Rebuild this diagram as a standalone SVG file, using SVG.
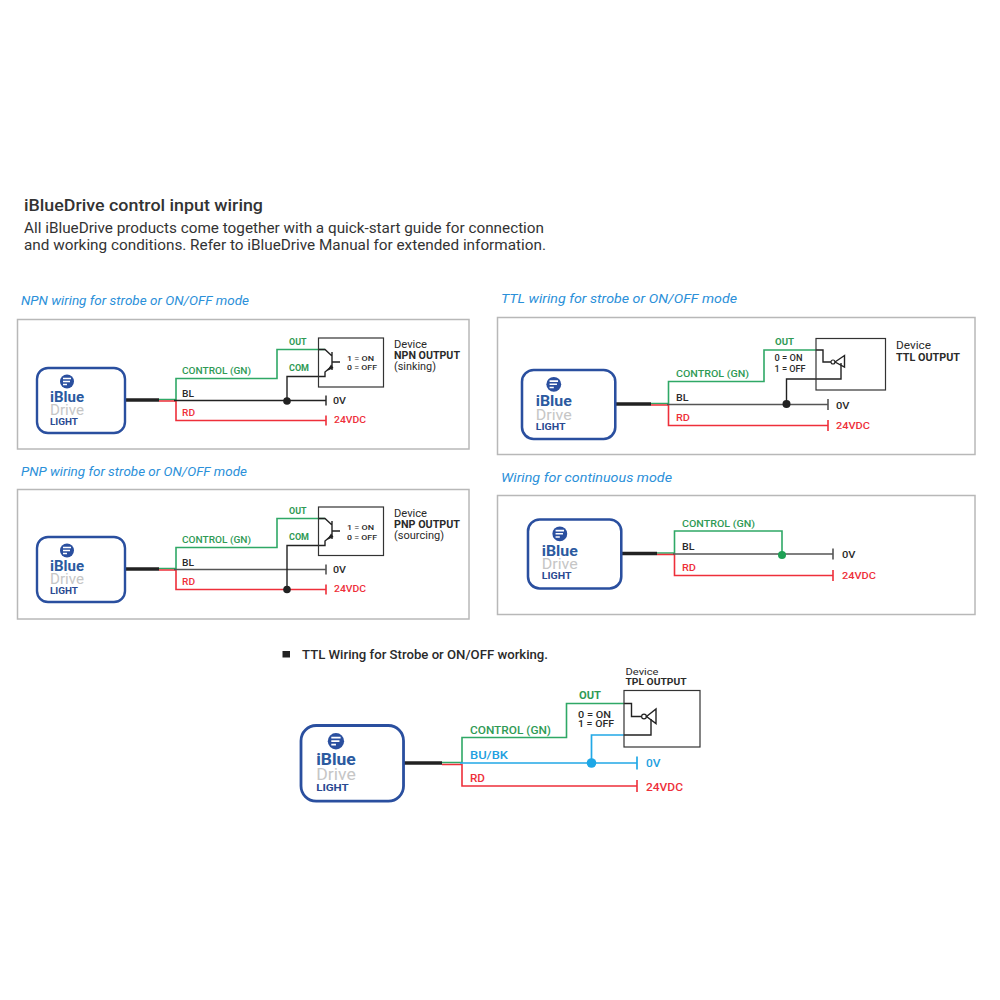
<svg xmlns="http://www.w3.org/2000/svg" width="1000" height="1000" viewBox="0 0 1000 1000">
<style>
text{font-family:"Roboto","Liberation Sans",sans-serif;fill:#2a2a2a;font-size:9px}
.panel{fill:#fff;stroke:#b8b8b8;stroke-width:1.5}
.dev{fill:none;stroke:#333;stroke-width:1.2}
.w{fill:none;stroke-width:1.4;stroke-linejoin:miter}
.g{stroke:#2fa866;stroke-width:1.6}.k{stroke:#222}.r{stroke:#ee2f3a;stroke-width:1.6}.b{stroke:#22a8e6;stroke-width:1.7}
.n{stroke:#555;stroke-width:1.6}
.cable{fill:none;stroke:#222;stroke-width:3.4}
.sec{font-size:12.5px;font-style:italic;fill:#2b90d9}
.tg{fill:#2f9a55}.tr{fill:#ee2f3a}.tb{fill:#22a0e0}.bd{font-weight:700}.md{font-weight:500}
.box{fill:#fff;stroke:#2a4f9f;stroke-width:2.4}
.lb{font-size:14px;font-weight:700;fill:#2b5a9f}
.ld{font-size:14px;fill:#c6c6c6}
.ll{font-size:8.500px;font-weight:700;fill:#2a4a92}
.ic{fill:#2a4f9f}
.icb{fill:none;stroke:#fff;stroke-width:1.5}
</style>
<g id="heading">
<text x="24" y="211" style="font-size:17px;font-weight:500;fill:#333" textLength="239" lengthAdjust="spacingAndGlyphs">iBlueDrive control input wiring</text>
<text x="24" y="233" style="font-size:14px;fill:#333" textLength="520" lengthAdjust="spacingAndGlyphs">All iBlueDrive products come together with a quick-start guide for connection</text>
<text x="24" y="250" style="font-size:14px;fill:#333" textLength="522" lengthAdjust="spacingAndGlyphs">and working conditions. Refer to iBlueDrive Manual for extended information.</text>
</g>
<g id="section-titles">
<text class="sec" x="21" y="305" textLength="228" lengthAdjust="spacingAndGlyphs">NPN wiring for strobe or ON/OFF mode</text>
<text class="sec" x="21" y="476" textLength="226" lengthAdjust="spacingAndGlyphs">PNP wiring for strobe or ON/OFF mode</text>
<text class="sec" x="501" y="303" textLength="236" lengthAdjust="spacingAndGlyphs">TTL wiring for strobe or ON/OFF mode</text>
<text class="sec" x="501" y="482" textLength="171" lengthAdjust="spacingAndGlyphs">Wiring for continuous mode</text>
</g>
<g id="panels">
<rect class="panel" x="17.5" y="319.5" width="451.5" height="129.5"/>
<rect class="panel" x="17.5" y="489.5" width="451.5" height="129.5"/>
<rect class="panel" x="497.5" y="317.5" width="477.5" height="137"/>
<rect class="panel" x="497.5" y="495.5" width="477.5" height="119"/>
</g>
<g id="connectors">
<!-- NPN -->
<path class="cable" d="M125 400H159"/>
<path class="w g" d="M159 399.5H176V378.5H277V349.5H325"/>
<path class="w r" d="M159 401H176V420.5H326M326 415.5V425.5"/>
<path class="w k" d="M174 400.5H326M326 395.5V405.5M287 401V376.500H318"/>
<path class="w k" d="M318 349.5H325L332 356M332 352V370M332 362H340M332 366L325 372V376.500H318"/>
<path d="M327 371L331 364.500L333.500 368Z" fill="#222"/>
<circle cx="287" cy="401" r="3.8" fill="#222"/>
<!-- PNP -->
<path class="cable" d="M125 569H159"/>
<path class="w g" d="M159 568.5H176V547.5H277V518.5H325"/>
<path class="w r" d="M159 570H176V589.5H326M326 584.5V594.5"/>
<path class="w n" d="M174 569.5H326M326 564.5V574.5"/>
<path class="w k" d="M287 589.5V545.5H318"/>
<path class="w k" d="M318 518.5H325L332 525M332 521V539M332 531H340M332 535L325 541V545.5H318"/>
<path d="M327 540L331 533.500L333.500 537Z" fill="#222"/>
<circle cx="287" cy="589.5" r="3.8" fill="#222"/>
<!-- TTL -->
<path class="cable" d="M615 404H651"/>
<path class="w g" d="M651 403.5H668.5V381.5H764V350H816"/>
<path class="w r" d="M651 405H668.5V425.5H828M828 420V431"/>
<path class="w n" d="M667 404.5H828M828 399V410"/>
<path class="w k" d="M786.5 404V379H841V363M816 350H823V362H831"/>
<circle cx="833" cy="362" r="2" fill="#fff" stroke="#222" stroke-width="1.100"/>
<path class="w k" d="M835 362L844.5 355.5V367Z"/>
<circle cx="786.5" cy="404" r="4" fill="#222"/>
<!-- Continuous -->
<path class="cable" d="M621 553.5H657"/>
<path class="w g" d="M657 553H674.5V531H782V555"/>
<path class="w r" d="M657 554.5H674.5V575.5H833M833 570V581"/>
<path class="w n" d="M673 554H833M833 548.5V559.5"/>
<circle cx="782" cy="555" r="4" fill="#1fa055"/>
<!-- TPL -->
<path class="cable" d="M403 763H442"/>
<path class="w g" d="M442 762.5H462V737.5H566.5V703.5H624"/>
<path class="w r" d="M442 764.5H462V786H637M637 780V792"/>
<path class="w b" d="M460 763H637M637 756.5V769.5M591.5 763V735H624"/>
<path class="w k" d="M624 703.5H631.5V716.5H641M624 735H651V719"/>
<circle cx="644" cy="716.5" r="2.4" fill="#fff" stroke="#222" stroke-width="1.200"/>
<path class="w k" d="M646.5 716.5L656 709V723.5Z"/>
<circle cx="591.5" cy="763" r="4.8" fill="#1ea7e6"/>
</g>
<g id="logo-npn" transform="translate(37 368)">
<rect class="box" width="88" height="65" rx="11"/><circle class="ic" cx="30" cy="13.5" r="7"/><path class="icb" d="M26 10.5H34M26 13.5H33M26 16.5H30"/>
<text class="lb" x="13" y="34" textLength="34" lengthAdjust="spacingAndGlyphs">iBlue</text><text class="ld" x="13" y="47" textLength="34" lengthAdjust="spacingAndGlyphs">Drive</text><text class="ll" x="13" y="56.500" textLength="28" lengthAdjust="spacingAndGlyphs">LIGHT</text>
</g>
<g id="device-npn">
<rect class="dev" x="318.500" y="338" width="65" height="49"/>
<text class="tg bd" x="289" y="345" textLength="17.500" lengthAdjust="spacingAndGlyphs">OUT</text>
<text class="tg bd" x="289" y="371" textLength="20" lengthAdjust="spacingAndGlyphs">COM</text>
<text class="tg md" x="182" y="374" textLength="69" lengthAdjust="spacingAndGlyphs">CONTROL (GN)</text>
<text class="md" x="182" y="397" textLength="12" lengthAdjust="spacingAndGlyphs">BL</text>
<text class="tr md" x="182" y="416" textLength="13" lengthAdjust="spacingAndGlyphs">RD</text>
<text class="md" x="333" y="404" textLength="13" lengthAdjust="spacingAndGlyphs">0V</text>
<text class="tr md" x="334" y="423" textLength="32" lengthAdjust="spacingAndGlyphs">24VDC</text>
<text class="md" x="347" y="361" textLength="27" lengthAdjust="spacingAndGlyphs" style="font-size:8px">1 = ON</text>
<text class="md" x="347" y="370" textLength="30" lengthAdjust="spacingAndGlyphs" style="font-size:8px">0 = OFF</text>
<text x="394" y="348" style="font-size:10px" textLength="33" lengthAdjust="spacingAndGlyphs">Device</text>
<text class="bd" x="394" y="359" style="font-size:10px" textLength="66" lengthAdjust="spacingAndGlyphs">NPN OUTPUT</text>
<text x="394" y="370" style="font-size:10px" textLength="42" lengthAdjust="spacingAndGlyphs">(sinking)</text>
</g>
<g id="logo-pnp" transform="translate(37 537)">
<rect class="box" width="88" height="65" rx="11"/><circle class="ic" cx="30" cy="13.5" r="7"/><path class="icb" d="M26 10.5H34M26 13.5H33M26 16.5H30"/>
<text class="lb" x="13" y="34" textLength="34" lengthAdjust="spacingAndGlyphs">iBlue</text><text class="ld" x="13" y="47" textLength="34" lengthAdjust="spacingAndGlyphs">Drive</text><text class="ll" x="13" y="56.500" textLength="28" lengthAdjust="spacingAndGlyphs">LIGHT</text>
</g>
<g id="device-pnp">
<rect class="dev" x="318.500" y="507" width="65" height="48.500"/>
<text class="tg bd" x="289" y="514" textLength="17.500" lengthAdjust="spacingAndGlyphs">OUT</text>
<text class="tg bd" x="289" y="540" textLength="20" lengthAdjust="spacingAndGlyphs">COM</text>
<text class="tg md" x="182" y="543" textLength="69" lengthAdjust="spacingAndGlyphs">CONTROL (GN)</text>
<text class="md" x="182" y="566" textLength="12" lengthAdjust="spacingAndGlyphs">BL</text>
<text class="tr md" x="182" y="585" textLength="13" lengthAdjust="spacingAndGlyphs">RD</text>
<text class="md" x="333" y="573" textLength="13" lengthAdjust="spacingAndGlyphs">0V</text>
<text class="tr md" x="334" y="592" textLength="32" lengthAdjust="spacingAndGlyphs">24VDC</text>
<text class="md" x="347" y="530" textLength="27" lengthAdjust="spacingAndGlyphs" style="font-size:8px">1 = ON</text>
<text class="md" x="347" y="539.500" textLength="30" lengthAdjust="spacingAndGlyphs" style="font-size:8px">0 = OFF</text>
<text x="394" y="517" style="font-size:10px" textLength="33" lengthAdjust="spacingAndGlyphs">Device</text>
<text class="bd" x="394" y="528" style="font-size:10px" textLength="66" lengthAdjust="spacingAndGlyphs">PNP OUTPUT</text>
<text x="394" y="539" style="font-size:10px" textLength="50" lengthAdjust="spacingAndGlyphs">(sourcing)</text>
</g>
<g id="logo-ttl" transform="translate(522 370) scale(1.06)">
<rect class="box" width="88" height="65" rx="11"/><circle class="ic" cx="30" cy="13.5" r="7"/><path class="icb" d="M26 10.5H34M26 13.5H33M26 16.5H30"/>
<text class="lb" x="13" y="34" textLength="34" lengthAdjust="spacingAndGlyphs">iBlue</text><text class="ld" x="13" y="47" textLength="34" lengthAdjust="spacingAndGlyphs">Drive</text><text class="ll" x="13" y="56.500" textLength="28" lengthAdjust="spacingAndGlyphs">LIGHT</text>
</g>
<g id="device-ttl">
<rect class="dev" x="816" y="338.500" width="69.500" height="51.500"/>
<text class="tg bd" x="775" y="345" textLength="19" lengthAdjust="spacingAndGlyphs">OUT</text>
<text class="md" x="774.500" y="361" textLength="28" lengthAdjust="spacingAndGlyphs" style="font-size:8.500px">0 = ON</text>
<text class="md" x="774.500" y="371.500" textLength="31" lengthAdjust="spacingAndGlyphs" style="font-size:8.500px">1 = OFF</text>
<text class="tg md" x="676" y="377" textLength="73" lengthAdjust="spacingAndGlyphs">CONTROL (GN)</text>
<text class="md" x="676" y="400.500" textLength="12.500" lengthAdjust="spacingAndGlyphs">BL</text>
<text class="tr md" x="676" y="420.500" textLength="14" lengthAdjust="spacingAndGlyphs">RD</text>
<text class="md" x="836" y="408.500" textLength="13.500" lengthAdjust="spacingAndGlyphs">0V</text>
<text class="tr md" x="836" y="429" textLength="34" lengthAdjust="spacingAndGlyphs">24VDC</text>
<text x="896" y="349" style="font-size:10.500px" textLength="35" lengthAdjust="spacingAndGlyphs">Device</text>
<text class="bd" x="896" y="361" style="font-size:10.500px" textLength="64" lengthAdjust="spacingAndGlyphs">TTL OUTPUT</text>
</g>
<g id="logo-continuous" transform="translate(528 519.500) scale(1.06)">
<rect class="box" width="88" height="65" rx="11"/><circle class="ic" cx="30" cy="13.5" r="7"/><path class="icb" d="M26 10.5H34M26 13.5H33M26 16.5H30"/>
<text class="lb" x="13" y="34" textLength="34" lengthAdjust="spacingAndGlyphs">iBlue</text><text class="ld" x="13" y="47" textLength="34" lengthAdjust="spacingAndGlyphs">Drive</text><text class="ll" x="13" y="56.500" textLength="28" lengthAdjust="spacingAndGlyphs">LIGHT</text>
</g>
<g id="labels-continuous">
<text class="tg md" x="682" y="527" textLength="73" lengthAdjust="spacingAndGlyphs">CONTROL (GN)</text>
<text class="md" x="682" y="550" textLength="12.500" lengthAdjust="spacingAndGlyphs">BL</text>
<text class="tr md" x="682" y="571" textLength="14" lengthAdjust="spacingAndGlyphs">RD</text>
<text class="md" x="842" y="557.500" textLength="13.500" lengthAdjust="spacingAndGlyphs">0V</text>
<text class="tr md" x="842" y="579" textLength="34" lengthAdjust="spacingAndGlyphs">24VDC</text>
</g>
<g id="ttl-heading">
<rect x="282.500" y="651" width="7.500" height="6.500" fill="#222"/>
<text x="302" y="658.500" style="font-size:12px;font-weight:500" textLength="246" lengthAdjust="spacingAndGlyphs">TTL Wiring for Strobe or ON/OFF working.</text>
</g>
<g id="logo-tpl" transform="translate(301 725.500) scale(1.165)">
<rect class="box" width="88" height="65" rx="13"/><circle class="ic" cx="30" cy="13.5" r="7"/><path class="icb" d="M26 10.5H34M26 13.5H33M26 16.5H30"/>
<text class="lb" x="13" y="34" textLength="34" lengthAdjust="spacingAndGlyphs">iBlue</text><text class="ld" x="13" y="47" textLength="34" lengthAdjust="spacingAndGlyphs">Drive</text><text class="ll" x="13" y="56.500" textLength="28" lengthAdjust="spacingAndGlyphs">LIGHT</text>
</g>
<g id="device-tpl">
<rect class="dev" x="624" y="690.500" width="76" height="56.500"/>
<text x="625.500" y="674.500" style="font-size:9px" textLength="33" lengthAdjust="spacingAndGlyphs">Device</text>
<text class="bd" x="625.500" y="684.500" style="font-size:9.500px" textLength="61" lengthAdjust="spacingAndGlyphs">TPL OUTPUT</text>
<text class="tg bd" x="579" y="699" style="font-size:10px" textLength="22" lengthAdjust="spacingAndGlyphs">OUT</text>
<text class="md" x="578" y="717.500" textLength="33" lengthAdjust="spacingAndGlyphs">0 = ON</text>
<text class="md" x="578" y="727" textLength="36" lengthAdjust="spacingAndGlyphs">1 = OFF</text>
<text class="tg md" x="470" y="734" style="font-size:10.500px" textLength="81" lengthAdjust="spacingAndGlyphs">CONTROL (GN)</text>
<text class="tb md" x="470" y="758.500" style="font-size:10.500px" textLength="38" lengthAdjust="spacingAndGlyphs">BU/BK</text>
<text class="tr md" x="470" y="782" style="font-size:10.500px" textLength="15" lengthAdjust="spacingAndGlyphs">RD</text>
<text class="tb md" x="646" y="767" style="font-size:10.500px" textLength="14.500" lengthAdjust="spacingAndGlyphs">0V</text>
<text class="tr md" x="646" y="791" style="font-size:10.500px" textLength="37" lengthAdjust="spacingAndGlyphs">24VDC</text>
</g>
</svg>
